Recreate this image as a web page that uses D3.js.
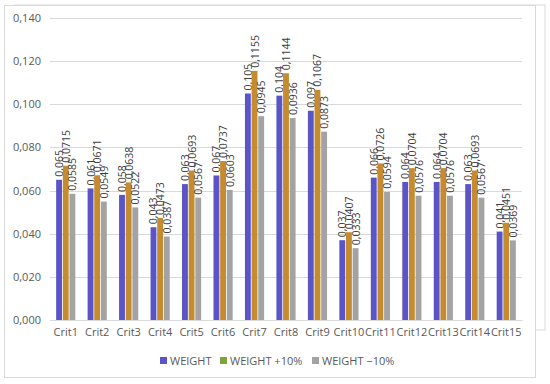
<!DOCTYPE html>
<html>
<head>
<meta charset="utf-8">
<script src="https://cdn.jsdelivr.net/npm/d3@7"></script>
<style>
  body { margin: 0; background: #fff; }
  svg text { font-family: "Open Sans", "Liberation Sans", sans-serif; }
</style>
</head>
<body>
<svg id="chart" width="550" height="384"></svg>
<script>
// chart data
const categories = ["Crit1","Crit2","Crit3","Crit4","Crit5","Crit6","Crit7","Crit8","Crit9","Crit10","Crit11","Crit12","Crit13","Crit14","Crit15"];
const weight = [0.065, 0.061, 0.058, 0.043, 0.063, 0.067, 0.105, 0.104, 0.097, 0.037, 0.066, 0.064, 0.064, 0.063, 0.041];
const weightPlus = [0.0715, 0.0671, 0.0638, 0.0473, 0.0693, 0.0737, 0.1155, 0.1144, 0.1067, 0.0407, 0.0726, 0.0704, 0.0704, 0.0693, 0.0451];
const weightMinus = [0.0585, 0.0549, 0.0522, 0.0387, 0.0567, 0.0603, 0.0945, 0.0936, 0.0873, 0.0333, 0.0594, 0.0576, 0.0576, 0.0567, 0.0369];
const yTicks = [0, 0.02, 0.04, 0.06, 0.08, 0.10, 0.12, 0.14];
const seriesNames = ["WEIGHT", "WEIGHT +10%", "WEIGHT  \u221210%"];
const colors = ["#5a54c6", "#c48c2e", "#a3a3a3"];

const series = [weight, weightPlus, weightMinus];
const svg = d3.select('#chart');

// frames
svg.append('rect').attr('x', 14).attr('y', 5).attr('width', 531).attr('height', 325)
  .attr('fill', 'none').attr('stroke', '#d9d9d9');
svg.append('rect').attr('x', 4.5).attr('y', 5.5).attr('width', 531).attr('height', 372)
  .attr('fill', '#fff').attr('stroke', '#d9d9d9');

const x = d3.scaleBand().domain(categories).range([50, 522]).paddingInner(0.34).paddingOuter(0.17);
const y = d3.scaleLinear().domain([0, 0.14]).range([320, 18]);
const xs = d3.scaleBand().domain([0, 1, 2]).range([0, x.bandwidth()]).padding(0.12);

const fmt = v => String(v).replace('.', ',');

// gridlines
svg.append('g').selectAll('line').data(yTicks).enter().append('line')
  .attr('x1', 50).attr('x2', 522)
  .attr('y1', d => Math.round(y(d)) + 0.5).attr('y2', d => Math.round(y(d)) + 0.5)
  .attr('stroke', '#d9d9d9');

// y axis labels
const yAxis = svg.append('g').attr('transform', 'translate(44,0)')
  .call(d3.axisLeft(y).tickValues(yTicks).tickSize(0).tickFormat(d => d3.format('.3f')(d).replace('.', ',')));
yAxis.select('.domain').remove();
yAxis.selectAll('text').attr('fill', '#595959').style('font-size', '11px');

// x axis labels
const xAxis = svg.append('g').attr('transform', 'translate(0,320)')
  .call(d3.axisBottom(x).tickSize(0).tickPadding(8));
xAxis.select('.domain').attr('stroke', '#d9d9d9');
xAxis.selectAll('text').attr('fill', '#595959').style('font-size', '11px');

// bars and labels
series.forEach((vals, si) => {
  const g = svg.append('g');
  g.selectAll('rect').data(vals).enter().append('rect')
    .attr('x', (d, i) => x(categories[i]) + xs(si))
    .attr('y', d => y(d))
    .attr('width', xs.bandwidth())
    .attr('height', d => y(0) - y(d))
    .attr('fill', colors[si]);
  g.selectAll('text').data(vals).enter().append('text')
    .attr('transform', (d, i) => {
      const cx = x(categories[i]) + xs(si) + xs.bandwidth() / 2 + 4;
      return `translate(${cx},${y(d) - 3}) rotate(-90)`;
    })
    .attr('fill', '#404040')
    .style('font-size', '10.5px')
    .text(d => fmt(d));
});

// legend
const legend = svg.append('g').attr('transform', 'translate(160,361)');
const legendX = [0, 60, 152];
seriesNames.forEach((name, i) => {
  const lg = legend.append('g').attr('transform', `translate(${legendX[i]},0)`);
  lg.append('rect').attr('x', 0).attr('y', -4).attr('width', 7).attr('height', 7)
    .attr('fill', i === 1 ? '#7fa43a' : colors[i]);
  lg.append('text').attr('x', 10).attr('y', 4).attr('fill', '#595959')
    .style('font-size', '11px').text(name);
});
</script>
</body>
</html>
